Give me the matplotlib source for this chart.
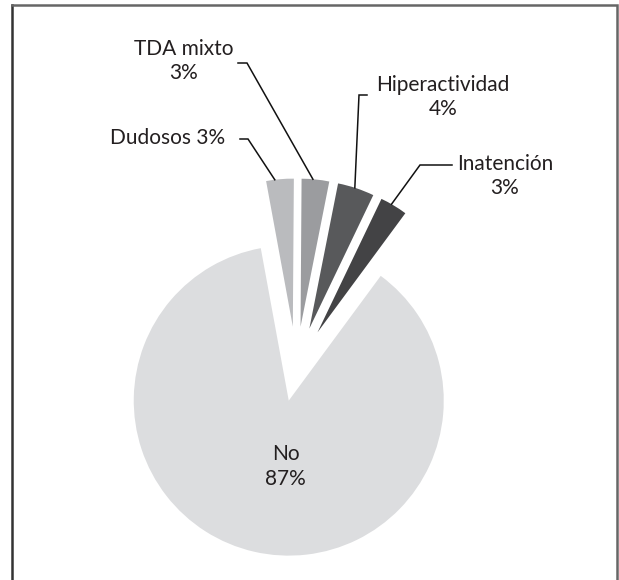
import numpy as np
import matplotlib
matplotlib.use('Agg')
import matplotlib.pyplot as plt

# data
categories = ['No', 'Inatención', 'Hiperactividad', 'TDA mixto', 'Dudosos']
values = [87, 3, 4, 3, 3]
pct_labels = ['87%', '3%', '4%', '3%', '3%']
colors = ['#dcdddf', '#434345', '#58595b', '#9b9c9f', '#babbbe']

W, H = 619, 580
plt.rcParams['font.family'] = ['Lato', 'DejaVu Sans']

fig = plt.figure(figsize=(W / 100, H / 100), dpi=100)
ax = fig.add_axes([0, 0, 1, 1])


def img(x, y):
    # picture coords (y down) -> data coords (y up)
    return x, H - y


R = 155
# explode is in data units here (radius is not 1)
wedges, _ = ax.pie(values, colors=colors, startangle=100.4, counterclock=True,
                   radius=R, center=img(296.4, 367.5),
                   explode=[34, 41, 41, 41, 41],
                   wedgeprops=dict(linewidth=0), frame=True)
ax.set_xlim(0, W)
ax.set_ylim(0, H)
ax.set_aspect('equal')
ax.axis('off')
for w in wedges[1:]:
    w.set_radius(148)

txt_color = '#231f20'
fs = 15
fw = 'normal'
ls = 1.3

# label inside the big slice
cx, cy = wedges[0].center
ax.text(cx - 3, cy - 66, categories[0] + '\n' + pct_labels[0], ha='center', va='center',
        fontsize=fs, fontweight=fw, color=txt_color, linespacing=ls)

# outside labels: (text pos, ha, text, elbow, line end, anchor angle offset)
outside = {
    'Dudosos': ((225, 138), 'right', 'Dudosos 3%', (248, 139), (240, 139), 2.0),
    'TDA mixto': ((184, 61), 'center', 'TDA mixto\n3%', (247, 63), (238, 63), 1.0),
    'Hiperactividad': ((443, 97), 'center', 'Hiperactividad\n4%', (359, 95), (367, 95), 0.5),
    'Inatención': ((505, 176), 'center', 'Inatención\n3%', (420, 165), (452, 165), 1.0),
}

for i, name in enumerate(categories[1:], start=1):
    (tx, ty), ha, label, elbow, end, doff = outside[name]
    w = wedges[i]
    a = np.deg2rad((w.theta1 + w.theta2) / 2 + doff)
    ax0 = w.center[0] + w.r * np.cos(a)
    ay0 = w.center[1] + w.r * np.sin(a)
    ex, ey = img(*elbow)
    hx, hy = img(*end)
    ax.plot([ax0, ex, hx], [ay0, ey, hy], color='#111111', lw=1.1,
            solid_joinstyle='miter')
    ax.text(*img(tx, ty), label, ha=ha, va='center', fontsize=fs, fontweight=fw,
            color=txt_color, linespacing=ls)

# frame around the chart
fx0, fx1 = 12, 617
fy = 5
ax.plot([fx0, fx0], [0, H - fy], color='#333333', lw=1.8)
ax.plot([fx0, fx1, fx1], [H - fy, H - fy, 0], color='#666666', lw=1.8,
        solid_joinstyle='miter')

fig.savefig('out.png', dpi=100)
